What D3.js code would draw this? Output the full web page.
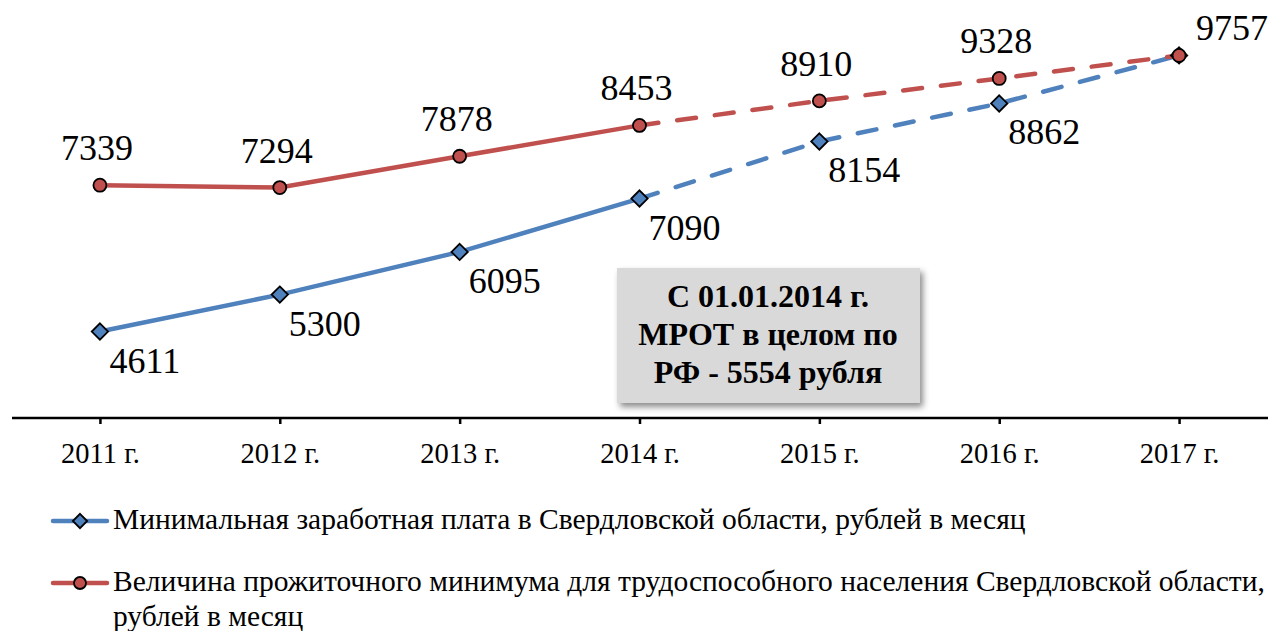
<!DOCTYPE html>
<html>
<head>
<meta charset="utf-8">
<script src="https://cdn.jsdelivr.net/npm/d3@7"></script>
<style>
  body { margin: 0; background: #fff; }
</style>
</head>
<body>
<svg id="chart"></svg>
<script>
var years = ['2011 г.', '2012 г.', '2013 г.', '2014 г.', '2015 г.', '2016 г.', '2017 г.']
var mrot = [4611, 5300, 6095, 7090, 8154, 8862, 9757]
var minimum = [7339, 7294, 7878, 8453, 8910, 9328, 9757]
var forecastFrom = 3 // index where lines become dashed
var legendLabels = [
  ['Минимальная заработная плата в Свердловской области, рублей в месяц'],
  ['Величина прожиточного минимума для трудоспособного населения Свердловской области,', 'рублей в месяц']
]
var noteLines = ['С 01.01.2014 г.', 'МРОТ в целом по', 'РФ - 5554 рубля']

var w = 1274
  , h = 631
  , axisY = 418
  , blue = '#4F81BD'
  , red = '#C0504D'
  , serif = 'Liberation Serif'
  , svg = d3.select('#chart').attr('width', w).attr('height', h)
      .attr('font-family', serif)

var defs = svg.append('defs')
defs.append('filter').attr('id', 'shadow')
    .attr('x', '-10%').attr('y', '-10%').attr('width', '130%').attr('height', '130%')
  .append('feDropShadow')
    .attr('dx', 3).attr('dy', 4).attr('stdDeviation', 3)
    .attr('flood-color', '#000').attr('flood-opacity', 0.45)

var x = d3.scalePoint().domain(years).range([10, 1269]).padding(0.5)
var y = d3.scaleLinear().domain([3000, 10790]).range([axisY, 0])

// note box
var note = svg.append('g').attr('transform', 'translate(617,268)')
note.append('rect')
  .attr('width', 303).attr('height', 135)
  .attr('fill', '#D9D9D9')
  .attr('filter', 'url(#shadow)')
note.selectAll('text').data(noteLines)
  .enter().append('text')
    .attr('x', 151).attr('y', function(d, i){ return 39 + i * 38 })
    .attr('text-anchor', 'middle')
    .attr('font-family', serif)
    .attr('font-size', 32).attr('font-weight', 'bold')
    .text(function(d){ return d })

// x axis
var axis = svg.append('g').attr('transform', 'translate(0,' + axisY + ')')
  .call(d3.axisBottom(x).tickSize(6))
axis.attr('font-family', serif).attr('font-size', 28.5)
axis.select('.domain').attr('d', 'M12,0H1268').attr('stroke', '#000').attr('stroke-width', 2.5)
axis.selectAll('.tick line').attr('stroke', '#000').attr('stroke-width', 2.5)
axis.selectAll('.tick text').attr('fill', '#000').attr('y', 45).attr('dy', null)

var line = d3.line()
  .x(function(d){ return x(d.year) })
  .y(function(d){ return y(d.v) })

function drawSeries(vals, color){
  var pts = vals.map(function(v, i){ return {year: years[i], v: v} })
  svg.append('path').datum(pts.slice(0, forecastFrom + 1))
    .attr('d', line).attr('fill', 'none')
    .attr('stroke', color).attr('stroke-width', 4.5).attr('stroke-linecap', 'round')
  svg.append('path').datum(pts.slice(forecastFrom))
    .attr('d', line).attr('fill', 'none')
    .attr('stroke', color).attr('stroke-width', 4.5).attr('stroke-linecap', 'round')
    .attr('stroke-dasharray', '19,19')
  return pts
}

var bluePts = drawSeries(mrot, blue)
var redPts = drawSeries(minimum, red)

var diamond = d3.symbol().type(d3.symbolDiamond2).size(170)
svg.selectAll('path.mrot').data(bluePts)
  .enter().append('path').attr('class', 'mrot')
    .attr('d', diamond)
    .attr('transform', function(d){ return 'translate(' + x(d.year) + ',' + y(d.v) + ')' })
    .attr('fill', blue).attr('stroke', '#000').attr('stroke-width', 1.8)

svg.selectAll('circle.min').data(redPts)
  .enter().append('circle').attr('class', 'min')
    .attr('cx', function(d){ return x(d.year) })
    .attr('cy', function(d){ return y(d.v) })
    .attr('r', 6.5)
    .attr('fill', red).attr('stroke', '#000').attr('stroke-width', 1.8)

// data labels
var last = years.length - 1
svg.selectAll('text.lbl-mrot').data(bluePts.slice(0, last))
  .enter().append('text').attr('class', 'lbl-mrot')
    .attr('x', function(d){ return x(d.year) + 45 })
    .attr('y', function(d){ return y(d.v) + 41 })
    .attr('text-anchor', 'middle')
    .attr('font-family', serif)
    .attr('font-size', 36)
    .text(function(d){ return d.v })

svg.selectAll('text.lbl-min').data(redPts)
  .enter().append('text').attr('class', 'lbl-min')
    .attr('x', function(d, i){ return x(d.year) + (i === last ? 53 : -3) })
    .attr('y', function(d, i){ return y(d.v) - (i === last ? 15 : 25) })
    .attr('text-anchor', 'middle')
    .attr('font-family', serif)
    .attr('font-size', 36)
    .text(function(d){ return d.v })

// legend
var legend = svg.append('g').attr('transform', 'translate(0,521)')
var items = legend.selectAll('g').data(legendLabels)
  .enter().append('g')
    .attr('transform', function(d, i){ return 'translate(0,' + i * 62 + ')' })
items.append('line')
  .attr('x1', 53).attr('x2', 107)
  .attr('stroke', function(d, i){ return i ? red : blue })
  .attr('stroke-width', 4.5).attr('stroke-linecap', 'round')
items.filter(function(d, i){ return i === 0 }).append('path')
  .attr('d', d3.symbol().type(d3.symbolDiamond2).size(130))
  .attr('transform', 'translate(80,0)')
  .attr('fill', blue).attr('stroke', '#000').attr('stroke-width', 1.8)
items.filter(function(d, i){ return i === 1 }).append('circle')
  .attr('cx', 80).attr('r', 6)
  .attr('fill', red).attr('stroke', '#000').attr('stroke-width', 1.8)
items.append('text')
  .attr('y', 8)
  .attr('font-family', serif)
  .attr('font-size', 29.5)
  .selectAll('tspan').data(function(d){ return d })
  .enter().append('tspan')
    .attr('x', 113)
    .attr('dy', function(d, i){ return i ? 35 : 0 })
    .text(function(d){ return d })
</script>
</body>
</html>
